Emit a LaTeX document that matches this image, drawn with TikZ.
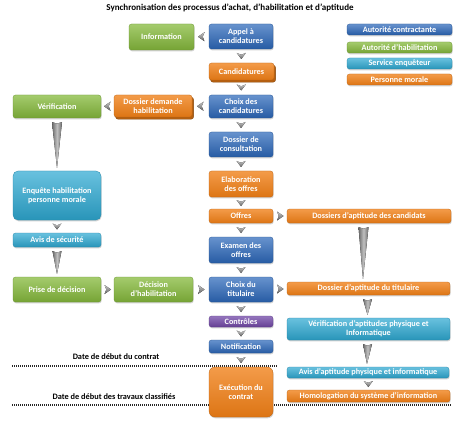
\documentclass[tikz,border=0pt]{standalone}
\usepackage{fontspec}
\setmainfont{Carlito}
\usepackage{tikz}
\usetikzlibrary{calc,shadows}
\definecolor{acblue}{HTML}{2C68BA}
\definecolor{ahgreen}{HTML}{86BA3C}
\definecolor{secyan}{HTML}{2EA9D2}
\definecolor{pmorange}{HTML}{F07F16}
\definecolor{ctpurple}{HTML}{7248A8}
\definecolor{arrgray}{HTML}{6A6A6A}

% small chevrons between boxes
\newcommand{\dnchev}[2]{\fill[chev] ($(#1.south)!0.5!(#2.north)$) +(-4.5,-3) -- +(0,-1.2) -- +(4.5,-3) -- +(0,3) -- cycle;}
\newcommand{\ltchev}[2]{\fill[chev] ($(#1.west)!0.5!(#2.east)$) +(3,-4.5) -- +(1.2,0) -- +(3,4.5) -- +(-3.5,0) -- cycle;}
\newcommand{\rtchev}[2]{\fill[chev] ($(#1.east)!0.5!(#2.west)$) +(-3,-4.5) -- +(-1.2,0) -- +(-3,4.5) -- +(3.5,0) -- cycle;}
% long tapered arrows, optional x offset
\newcommand{\taper}[4][0]{\fill[taperc] ($(#2.south)+(#1-#4,4)$) -- ($(#2.south)+(#1,5.5)$) -- ($(#2.south)+(#1+#4,4)$) -- ($(#3.north)+(#1,-3)$) -- cycle;}

\begin{document}
\begin{tikzpicture}[x=1pt,y=-1pt,
    pbox/.style={rounded corners=2.5pt, text=white, line width=0.3pt,
        font=\bfseries\fontsize{8.2}{9}\selectfont, align=center, inner sep=1pt,
        drop shadow={shadow xshift=0.6pt, shadow yshift=-1.3pt, opacity=0.35}},
    sz/.style 2 args={minimum width=#1pt, minimum height=#2pt},
    blueb/.style={pbox, top color=acblue!72!white, bottom color=acblue!88!black, draw=acblue!80!black},
    greenb/.style={pbox, top color=ahgreen!75!white, bottom color=ahgreen!88!black, draw=ahgreen!80!black},
    cyanb/.style={pbox, top color=secyan!72!white, bottom color=secyan!88!black, draw=secyan!80!black},
    orangeb/.style={pbox, top color=pmorange!78!white, bottom color=pmorange!92!black, draw=pmorange!80!black},
    purpleb/.style={pbox, top color=ctpurple!75!white, bottom color=ctpurple!88!black, draw=ctpurple!80!black},
    stacked/.style={copy shadow={shadow xshift=1.6pt, shadow yshift=-2.2pt, fill=pmorange!75!black, draw=pmorange!55!black}},
    chev/.style={top color=gray!45, bottom color=arrgray!90!black},
    taperc/.style={left color=arrgray, right color=arrgray, middle color=gray!50},
    dateline/.style={line width=1.2pt, dash pattern=on 1pt off 1pt, black!85},
    datelbl/.style={font=\bfseries\fontsize{8.3}{9}\selectfont, inner sep=1pt}]
    \useasboundingbox (0,0) rectangle (468,422);
    \fill[white] (0,0) rectangle (468,422);

    \node[font=\bfseries\fontsize{9}{10}\selectfont] (title) at (230,8) {Synchronisation des processus d'achat,\ d'habilitation\ et d'aptitude};

    % date lines, behind the boxes
    \coordinate (d1a) at (12,366);
    \coordinate (d1b) at (277,366);
    \coordinate (d2a) at (12,405);
    \coordinate (d2b) at (452,405);
    \draw[dateline] (d1a) -- (d1b);
    \draw[dateline] (d2a) -- (d2b);
    \node[datelbl] (date1) at (116,357) {Date de début du contrat};
    \node[datelbl] (date2) at (114,397) {Date de début des travaux classifiés};

    % legend
    \node[blueb,sz={105}{11}] (leg1) at (399.5,29.5) {Autorité contractante};
    \node[greenb,sz={105}{11}] (leg2) at (399.5,47.5) {Autorité d'habilitation};
    \node[cyanb,sz={105}{11}] (leg3) at (399.5,63.5) {Service enquêteur};
    \node[orangeb,sz={105}{11}] (leg4) at (399.5,79.5) {Personne morale};

    % central column
    \node[blueb,sz={64}{25}] (appel) at (241,36.5) {Appel à\\candidatures};
    \node[orangeb,stacked,sz={65}{17}] (cand) at (241.5,71.5) {Candidatures};
    \node[blueb,sz={64}{23}] (choixc) at (241,106.5) {Choix des\\candidatures};
    \node[blueb,sz={64}{25}] (dossc) at (241,144.5) {Dossier de\\consultation};
    \node[orangeb,sz={64}{26}] (elab) at (241,184) {Elaboration\\des offres};
    \node[orangeb,sz={64}{14}] (offres) at (241,216) {Offres};
    \node[blueb,sz={64}{26}] (examen) at (241,250) {Examen des\\offres};
    \node[blueb,sz={64}{25}] (choixt) at (241,289.5) {Choix du\\titulaire};
    \node[purpleb,sz={64}{11}] (ctrl) at (241,321.5) {Contrôles};
    \node[blueb,sz={64}{13}] (notif) at (241,346.5) {Notification};
    \node[orangeb,rounded corners=6pt,sz={64}{50}] (exec) at (241,392) {Exécution du\\contrat};

    % left columns
    \node[greenb,sz={65}{26}] (info) at (161.5,37) {Information};
    \node[greenb,sz={88}{23}] (verif) at (57,106.5) {Vérification};
    \node[orangeb,stacked,sz={78}{22}] (dossh) at (153,106) {Dossier demande\\habilitation};
    \node[cyanb,rounded corners=5pt,sz={88}{49}] (enq) at (57,195.5) {Enquête habilitation\\personne morale};
    \node[cyanb,sz={88}{14}] (avis) at (57,240) {Avis de sécurité};
    \node[greenb,sz={88}{25}] (prise) at (57,289.5) {Prise de décision};
    \node[greenb,sz={79}{25}] (decis) at (153.5,289.5) {Décision\\d'habilitation};

    % right column
    \node[orangeb,sz={164}{14}] (dac) at (369,216) {Dossiers d'aptitude des candidats};
    \node[orangeb,sz={163}{13}] (dat) at (368.5,288.5) {Dossier d'aptitude du titulaire};
    \node[cyanb,sz={163}{22}] (vapt) at (368.5,329) {Vérification d'aptitudes physique et\\Informatique};
    \node[cyanb,sz={162}{11}] (aapt) at (368,372.5) {Avis d'aptitude physique et informatique};
    \node[orangeb,sz={163}{12}] (homol) at (368.5,396) {Homologation du système d'information};

    % connectors
    \foreach \a/\b in {appel/cand,cand/choixc,choixc/dossc,dossc/elab,elab/offres,offres/examen,
        examen/choixt,choixt/ctrl,ctrl/notif,notif/exec,enq/avis,aapt/homol}
        {\dnchev{\a}{\b}}
    \ltchev{appel}{info}
    \ltchev{choixc}{dossh}
    \ltchev{dossh}{verif}
    \rtchev{prise}{decis}
    \rtchev{decis}{choixt}
    \rtchev{offres}{dac}
    \rtchev{choixt}{dat}
    \taper{verif}{enq}{5}
    \taper{avis}{prise}{4.5}
    \taper[-5.5]{dac}{dat}{5}
    \taper[-1]{dat}{vapt}{4.5}
    \taper[-1]{vapt}{aapt}{4.5}
\end{tikzpicture}
\end{document}
